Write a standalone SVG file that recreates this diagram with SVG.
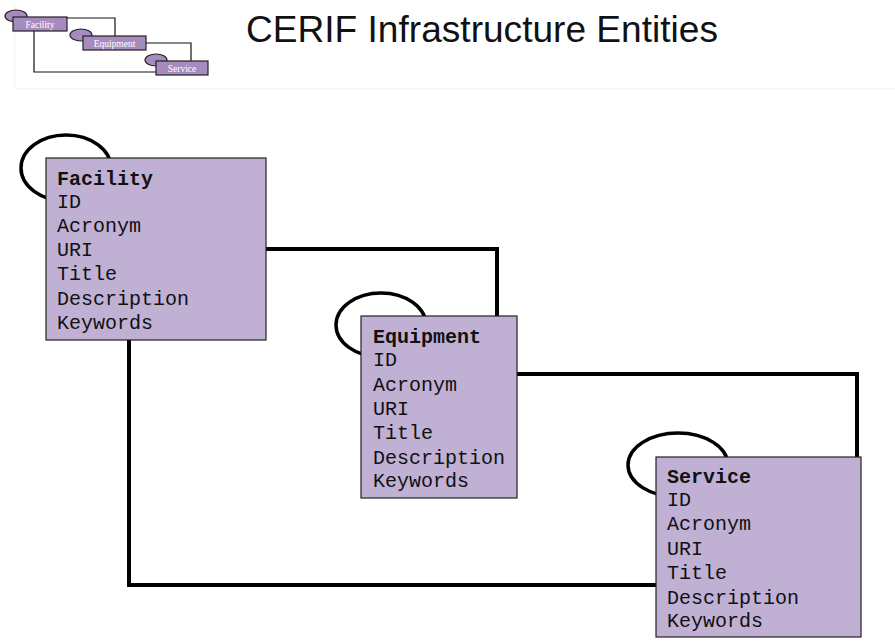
<svg xmlns="http://www.w3.org/2000/svg" width="895" height="643" viewBox="0 0 895 643">
<defs>
<style>
.mini{fill:#a68bbf;stroke:#222;stroke-width:1.2}
.miniell{fill:#a68bbf;stroke:#222;stroke-width:1.2}
.minitxt{font-family:"Liberation Serif","DejaVu Serif",serif;font-size:9.5px;fill:#fff}
.minicon{fill:none;stroke:#111;stroke-width:1.2}
.box{fill:#bfb0d4;stroke:#222;stroke-width:1.2}
.loop{fill:none;stroke:#000;stroke-width:3.5}
.con{fill:none;stroke:#000;stroke-width:4}
.t{font-family:"Liberation Mono","Courier New",monospace;font-size:20px;fill:#111}
.h{font-weight:bold}
</style>
</defs>
<rect x="0" y="0" width="895" height="643" fill="#fff"/>
<line x1="15" y1="89" x2="895" y2="89" stroke="#efefef" stroke-width="1"/>
<line x1="15" y1="5" x2="15" y2="89" stroke="#f3f3f3" stroke-width="1"/>
<g id="mini">
<path class="minicon" d="M67 18 H115 V37 M146 43 H191 V61 M34 31 V72 H156"/>
<ellipse class="miniell" cx="16" cy="16" rx="11" ry="6"/>
<rect class="mini" x="13" y="17" width="54" height="14"/>
<text class="minitxt" x="40" y="27.5" text-anchor="middle">Facility</text>
<ellipse class="miniell" cx="81" cy="35" rx="11" ry="6"/>
<rect class="mini" x="83" y="36" width="63" height="14"/>
<text class="minitxt" x="114.5" y="46.5" text-anchor="middle">Equipment</text>
<ellipse class="miniell" cx="156" cy="60" rx="11" ry="6"/>
<rect class="mini" x="156" y="61" width="52" height="14"/>
<text class="minitxt" x="182" y="71.5" text-anchor="middle">Service</text>
</g>
<text id="title" x="246" y="42" font-family="'Liberation Sans','DejaVu Sans',sans-serif" font-size="37" fill="#111" textLength="472" lengthAdjust="spacingAndGlyphs">CERIF Infrastructure Entities</text>
<g id="connectors">
<path class="con" d="M266 249 H497 V316"/>
<path class="con" d="M517 374 H857 V457"/>
<path class="con" d="M129 340 V585 H656"/>
</g>
<g id="facility">
<ellipse class="loop" cx="66" cy="168" rx="45" ry="33"/>
<rect class="box" x="46" y="158" width="220" height="182"/>
<text class="t h" x="57" y="185">Facility</text>
<text class="t" x="57" y="208">ID</text>
<text class="t" x="57" y="232">Acronym</text>
<text class="t" x="57" y="256">URI</text>
<text class="t" x="57" y="280">Title</text>
<text class="t" x="57" y="305">Description</text>
<text class="t" x="57" y="329">Keywords</text>
</g>
<g id="equipment">
<ellipse class="loop" cx="381" cy="325" rx="45" ry="32"/>
<rect class="box" x="361" y="316" width="156" height="182"/>
<text class="t h" x="373" y="343">Equipment</text>
<text class="t" x="373" y="366">ID</text>
<text class="t" x="373" y="391">Acronym</text>
<text class="t" x="373" y="415">URI</text>
<text class="t" x="373" y="439">Title</text>
<text class="t" x="373" y="464">Description</text>
<text class="t" x="373" y="487">Keywords</text>
</g>
<g id="service">
<ellipse class="loop" cx="678" cy="465" rx="50" ry="32"/>
<rect class="box" x="656" y="457" width="205" height="180"/>
<text class="t h" x="667" y="483">Service</text>
<text class="t" x="667" y="506">ID</text>
<text class="t" x="667" y="530">Acronym</text>
<text class="t" x="667" y="555">URI</text>
<text class="t" x="667" y="579">Title</text>
<text class="t" x="667" y="604">Description</text>
<text class="t" x="667" y="627">Keywords</text>
</g>
</svg>
